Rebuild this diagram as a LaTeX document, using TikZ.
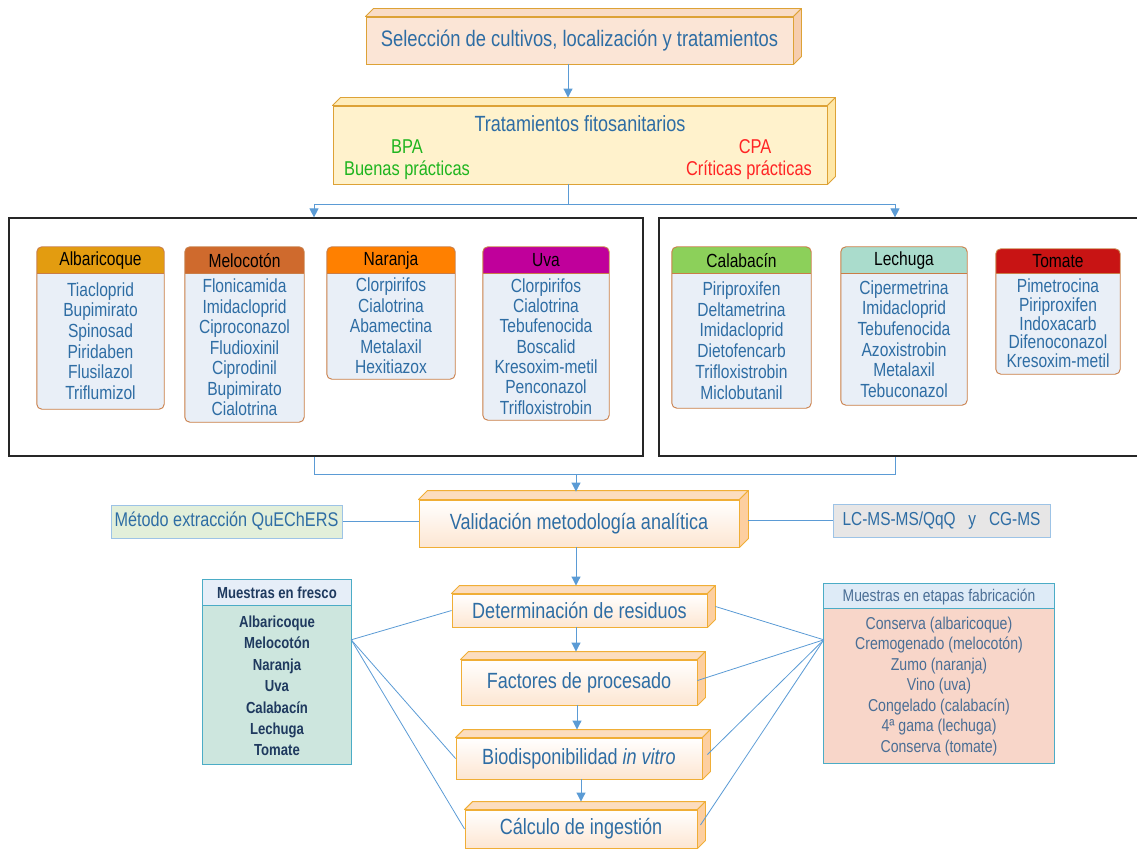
\documentclass[tikz,border=0pt]{standalone}
\usepackage{fontspec}
\setmainfont{Liberation Sans}[FakeStretch=0.82]
\usetikzlibrary{arrows.meta,calc,fit}
\definecolor{txtblue}{HTML}{2E6DA4}
\definecolor{lineblue}{HTML}{5B9BD5}
\definecolor{gold}{HTML}{DDA236}
\definecolor{peach}{HTML}{FBE5D6}
\definecolor{peachtop}{HTML}{F9DCC6}
\definecolor{peachside}{HTML}{F6CDAE}
\definecolor{yel}{HTML}{FFF2CC}
\definecolor{yeltop}{HTML}{FFEDBB}
\definecolor{yelside}{HTML}{FFE7A6}
\definecolor{lowtop}{HTML}{FCDDBF}
\definecolor{lowside}{HTML}{FDCFA0}
\definecolor{lowfront}{HTML}{FDE6D2}
\definecolor{lowborder}{HTML}{F0AE36}
\definecolor{bpagreen}{HTML}{1FB51F}
\definecolor{cpared}{HTML}{FF2424}
\definecolor{cropborder}{HTML}{C97D47}
\definecolor{cropbody}{HTML}{E9EFF7}
\definecolor{hAlb}{HTML}{E39C10}
\definecolor{hMel}{HTML}{CF6A2D}
\definecolor{hNar}{HTML}{FF8000}
\definecolor{hUva}{HTML}{C0009B}
\definecolor{hCal}{HTML}{8CD05A}
\definecolor{hLec}{HTML}{AADCCC}
\definecolor{hTom}{HTML}{C81414}
\definecolor{metfill}{HTML}{E2EFDA}
\definecolor{lcfill}{HTML}{E7E6E6}
\definecolor{sideborder}{HTML}{9DC3E6}
\definecolor{teal}{HTML}{4BACC6}
\definecolor{freshead}{HTML}{E6EEF8}
\definecolor{fresbody}{HTML}{CDE6DE}
\definecolor{fresnavy}{HTML}{1F3A5F}
\definecolor{etahead}{HTML}{DEEBF7}
\definecolor{etabody}{HTML}{F8D6C9}
\definecolor{etatext}{HTML}{4A6E95}
\newcommand\fsz[2]{\fontsize{#1}{#2}\selectfont}
% depth faces of a 3D box: node, depth, top fill, side fill, border
\newcommand\cubefaces[5]{%
  \filldraw[draw=#5, fill=#3, line width=0.9pt, line join=round]
    (#1.north west) -- ++(#2,-#2) -- ($(#1.north east)+(#2,-#2)$) -- (#1.north east) -- cycle;
  \filldraw[draw=#5, fill=#4, line width=0.9pt, line join=round]
    (#1.north east) -- ++(#2,-#2) -- ($(#1.south east)+(#2,-#2)$) -- (#1.south east) -- cycle;}
% crop box: name, left, top, right, bottom, header colour, header, items, leading
\newcommand\cropbox[9]{%
  \node[fit={(#2,#3)(#4,#5)}, inner sep=0pt] (#1) {};
  \fill[cropbody, rounded corners=5pt] (#1.north west) rectangle (#1.south east);
  \begin{scope}
    \clip[rounded corners=5pt] (#1.north west) rectangle (#1.south east);
    \fill[#6] (#1.north west) rectangle (#4,273);
  \end{scope}
  \draw[cropborder, line width=0.9pt] (#2,273) -- (#4,273);
  \draw[cropborder, line width=0.9pt, rounded corners=5pt] (#1.north west) rectangle (#1.south east);
  \node[font=\fsz{19}{21}, text=black] (#1h) at ({(#2+#4)/2},{(#3+273)/2+0.5}) {#7};
  \node[font=\fsz{19}{#9}, text=txtblue, align=center, inner sep=0pt] (#1b) at ({(#2+#4)/2},{(273+#5)/2}) {#8};}
\begin{document}
\begin{tikzpicture}[x=1pt,y=-1pt,
  arr/.style={draw=lineblue, line width=1pt, -{Triangle[width=9pt,length=9pt]}},
  conn/.style={draw=lineblue, line width=0.8pt},
  lowbox/.style={draw=lowborder, line width=0.9pt, top color=white, bottom color=lowfront, inner sep=0pt, text=txtblue, font=\fsz{22}{25}},
  bigbox/.style={draw=black!85, line width=1.2pt, inner sep=0pt},
  sidebox/.style={draw=sideborder, line width=1pt, inner sep=0pt, text=txtblue}]
\useasboundingbox (0,0) rectangle (1137,850);

% ---- top boxes
\node[draw=gold, fill=peach, line width=0.9pt, minimum width=427pt, minimum height=47pt, inner sep=0pt,
      font=\fsz{22.4}{25}, text=txtblue] (sel) at (579.5,40.5) {Selección de cultivos, localización y tratamientos};
\cubefaces{sel}{8}{peachtop}{peachside}{gold}

\node[draw=gold, fill=yel, line width=0.9pt, minimum width=494pt, minimum height=78pt, inner sep=0pt] (trat) at (580,145) {};
\cubefaces{trat}{8}{yeltop}{yelside}{gold}
\node[font=\fsz{22}{25}, text=txtblue] (tt) at (580,124) {Tratamientos fitosanitarios};
\node[font=\fsz{20}{23}, text=bpagreen] (bpa) at (407,147) {BPA};
\node[font=\fsz{20}{23}, text=bpagreen] (bpa2) at (407,170) {Buenas prácticas};
\node[font=\fsz{20}{23}, text=cpared] (cpa) at (755,147) {CPA};
\node[font=\fsz{20}{23}, text=cpared] (cpa2) at (749,170) {Críticas prácticas};

\draw[arr] (sel.south -| 568,0) -- ($(trat.north -| 568,0)+(0,-8)$);

% ---- big boxes
\node[bigbox, minimum width=634pt, minimum height=238pt] (lbox) at (326,337) {};
\node[bigbox, minimum width=490pt, minimum height=238pt] (rbox) at (904,337) {};

\coordinate (j0) at (568,204);
\coordinate (jL) at (314,204);
\coordinate (jR) at (895,204);
\draw[conn] (trat.south -| j0) -- (j0);
\draw[conn] (jL) -- (jR);
\draw[arr] (jL) -- (jL |- lbox.north);
\draw[arr] (jR) -- (jR |- rbox.north);

% ---- crop boxes
\cropbox{alb}{37}{247}{164}{409}{hAlb}{Albaricoque}{Tiacloprid\\Bupimirato\\Spinosad\\Piridaben\\Flusilazol\\Triflumizol}{20.7}
\cropbox{mel}{185}{247}{304}{422}{hMel}{Melocotón}{Flonicamida\\Imidacloprid\\Ciproconazol\\Fludioxinil\\Ciprodinil\\Bupimirato\\Cialotrina}{20.5}
\cropbox{nar}{327}{247}{455}{379}{hNar}{Naranja}{Clorpirifos\\Cialotrina\\Abamectina\\Metalaxil\\Hexitiazox}{20.5}
\cropbox{uva}{483}{247}{609}{420}{hUva}{Uva}{Clorpirifos\\Cialotrina\\Tebufenocida\\Boscalid\\Kresoxim-metil\\Penconazol\\Trifloxistrobin}{20.3}
\cropbox{cal}{672}{247}{811}{408}{hCal}{Calabacín}{Piriproxifen\\Deltametrina\\Imidacloprid\\Dietofencarb\\Trifloxistrobin\\Miclobutanil}{20.7}
\cropbox{lec}{841}{247}{967}{405}{hLec}{Lechuga}{Cipermetrina\\Imidacloprid\\Tebufenocida\\Azoxistrobin\\Metalaxil\\Tebuconazol}{20.6}
\cropbox{tom}{996}{249}{1120}{374}{hTom}{Tomate}{Pimetrocina\\Piriproxifen\\Indoxacarb\\Difenoconazol\\Kresoxim-metil}{18.7}

% ---- validation
\node[lowbox, minimum width=320pt, minimum height=47pt] (val) at (579,523.5) {Validación metodología analítica};
\cubefaces{val}{9}{lowtop}{lowside}{lowborder}

\coordinate (kL) at (314,474);
\coordinate (kR) at (895,474);
\coordinate (k0) at (576,474);
\draw[conn] (lbox.south -| kL) -- (kL) -- (kR) -- (rbox.south -| kR);
\draw[arr] (k0) -- ($(k0 |- val.north)+(0,-8)$);

\node[sidebox, fill=metfill, minimum width=231pt, minimum height=33pt, font=\fsz{19.8}{22}] (met) at (226.5,521.5) {Método extracción QuEChERS};
\node[sidebox, fill=lcfill, minimum width=217pt, minimum height=33pt, font=\fsz{18.8}{22}] (lc) at (941.5,520.5) {LC-MS-MS/QqQ \ \ y \ \ CG-MS};
\draw[conn] (met.east) -- (met.east -| val.west);
\draw[conn] (lc.west) -- (lc.west -| 748,0);

% ---- lower chain
\node[lowbox, minimum width=255pt, minimum height=33pt] (det) at (579.5,610.5) {Determinación de residuos};
\cubefaces{det}{8}{lowtop}{lowside}{lowborder}
\node[lowbox, minimum width=236pt, minimum height=45pt] (fac) at (579,682.5) {Factores de procesado};
\cubefaces{fac}{8}{lowtop}{lowside}{lowborder}
\node[lowbox, minimum width=246pt, minimum height=41pt] (bio) at (579,758.5) {Biodisponibilidad \textit{in vitro}};
\cubefaces{bio}{8}{lowtop}{lowside}{lowborder}
\node[lowbox, minimum width=232pt, minimum height=38pt] (calc) at (581,829) {Cálculo de ingestión};
\cubefaces{calc}{8}{lowtop}{lowside}{lowborder}

\draw[arr] (val.south -| 576,0) -- ($(det.north -| 576,0)+(0,-8)$);
\draw[arr] (det.south -| 576,0) -- ($(fac.north -| 576,0)+(0,-8)$);
\draw[arr] (fac.south -| 577,0) -- ($(bio.north -| 577,0)+(0,-8)$);
\draw[arr] (bio.south -| 581,0) -- ($(calc.north -| 581,0)+(0,-8)$);

% ---- samples boxes
\node[fit={(203,580)(351,764)}, inner sep=0pt] (fre) {};
\fill[fresbody] (fre.north west) rectangle (fre.south east);
\fill[freshead] (fre.north west) rectangle (351,605);
\draw[teal, line width=1pt] (203,605) -- (351,605);
\draw[teal, line width=1pt] (fre.north west) rectangle (fre.south east);
\node[font=\bfseries\fsz{16}{18}, text=fresnavy] (freh) at (277,593) {Muestras en fresco};
\node[font=\bfseries\fsz{16}{21.4}, text=fresnavy, align=center, inner sep=0pt] (freb) at (277,686) {Albaricoque\\Melocotón\\Naranja\\Uva\\Calabacín\\Lechuga\\Tomate};

\node[fit={(824,584)(1054,763)}, inner sep=0pt] (eta) {};
\fill[etabody] (eta.north west) rectangle (eta.south east);
\fill[etahead] (eta.north west) rectangle (1054,608);
\draw[teal, line width=1pt] (824,608) -- (1054,608);
\draw[teal, line width=1pt] (eta.north west) rectangle (eta.south east);
\node[font=\fsz{16.9}{19}, text=etatext] (etah) at (939,597) {Muestras en etapas fabricación};
\node[font=\fsz{17.2}{20.5}, text=etatext, align=center, inner sep=0pt] (etab) at (939,686.5) {Conserva (albaricoque)\\Cremogenado (melocotón)\\Zumo (naranja)\\Vino (uva)\\Congelado (calabacín)\\4ª gama (lechuga)\\Conserva (tomate)};

\coordinate (fo) at ($(fre.north east)+(0,60)$);
\coordinate (eo) at ($(eta.north west)+(0,56)$);
\draw[conn] (fo) -- (det.west);
\draw[conn] (fo) -- (bio.west);
\draw[conn] (fo) -- (calc.west);
\draw[conn] (eo) -- ($(det.east)+(8,-4)$);
\draw[conn] (eo) -- ($(fac.east)+(0,-2)$);
\draw[conn] (eo) -- ($(bio.east)+(5,-4)$);
\draw[conn] (eo) -- ($(calc.east)+(3,-4)$);
\end{tikzpicture}
\end{document}
